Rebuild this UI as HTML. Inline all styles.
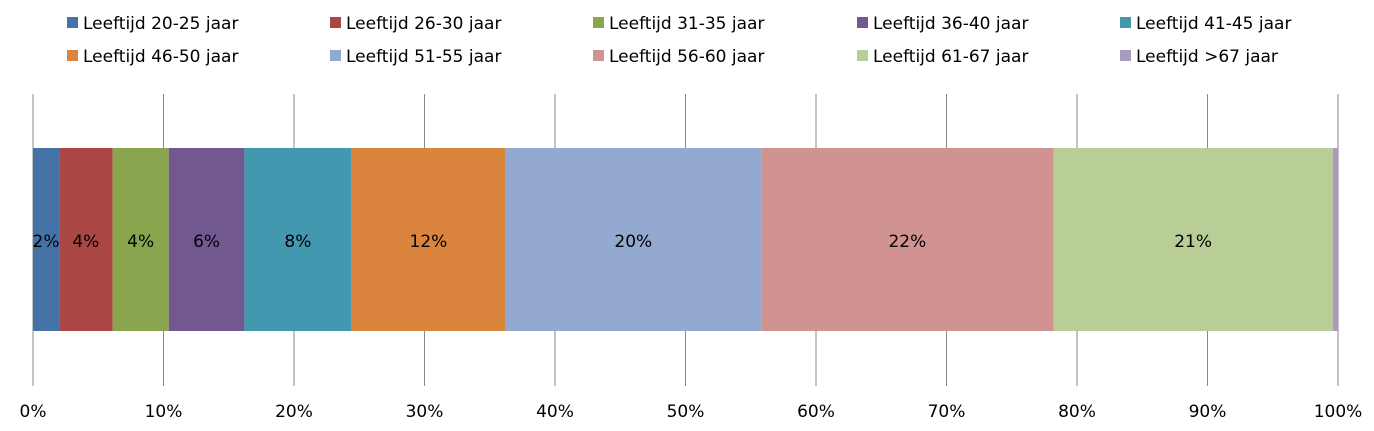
<!DOCTYPE html>
<html><head><meta charset="utf-8"><style>
body{margin:0;background:#fff;}
svg{display:block;font-family:"DejaVu Sans","Liberation Sans",sans-serif;}
</style></head><body>
<svg id="chart" width="1374" height="431" xmlns="http://www.w3.org/2000/svg">
<g id="legend"></g>
<g id="grid"></g>
<g id="bars"></g>
<g id="xaxis"></g>
</svg>
<script>
const categories=["Leeftijd 20-25 jaar","Leeftijd 26-30 jaar","Leeftijd 31-35 jaar","Leeftijd 36-40 jaar","Leeftijd 41-45 jaar","Leeftijd 46-50 jaar","Leeftijd 51-55 jaar","Leeftijd 56-60 jaar","Leeftijd 61-67 jaar","Leeftijd >67 jaar"];
const values=[2.0,4.1,4.3,5.8,8.2,11.8,19.6,22.4,21.4,0.4];
const valueLabels=["2%","4%","4%","6%","8%","12%","20%","22%","21%",""];
const colors=["#4572a7","#aa4643","#89a54e","#71588f","#4198af","#db843d","#93a9cf","#d19392","#b9cd96","#a99bbd"];
const tickValues=[0,10,20,30,40,50,60,70,80,90,100];
const tickLabels=["0%","10%","20%","30%","40%","50%","60%","70%","80%","90%","100%"];
const NS="http://www.w3.org/2000/svg";
const x0=33,x1=1338,barTop=148,barBot=331;
const xs=v=>x0+(x1-x0)*v/100;
function mk(t,a,p){const e=document.createElementNS(NS,t);for(const k in a)e.setAttribute(k,a[k]);p.appendChild(e);return e;}
const grid=document.getElementById('grid'),bars=document.getElementById('bars'),xa=document.getElementById('xaxis'),lg=document.getElementById('legend');
tickValues.forEach((v,i)=>{
 const l=mk('line',{x1:xs(v),x2:xs(v),y1:94,y2:386,stroke:'#888','stroke-width':1},grid);
 
 
 const t=mk('text',{x:xs(v),y:417,'text-anchor':'middle','font-size':17,fill:'#000'},xa);
 t.textContent=tickLabels[i];
 
 
});
let cum=0;
values.forEach((v,i)=>{
 const a=xs(cum),b=xs(cum+v);cum+=v;
 const r=mk('rect',{x:a,y:barTop,width:b-a,height:barBot-barTop,fill:colors[i]},bars);
 
 
 if(valueLabels[i]){
  const t=mk('text',{x:(a+b)/2,y:247,'text-anchor':'middle','font-size':17,fill:'#000'},bars);
  t.textContent=valueLabels[i];
  
  
 }
});
const lx=[67,330,593,857,1120],ly=[17,50];
categories.forEach((c,i)=>{
 const x=lx[i%5],y=ly[Math.floor(i/5)];
 const r=mk('rect',{x:x,y:y,width:11,height:11,fill:colors[i]},lg);
 
 
 const t=mk('text',{x:x+16,y:y+12,'font-size':17,fill:'#000'},lg);
 t.textContent=c;
 
 
});
</script>
</body></html>
